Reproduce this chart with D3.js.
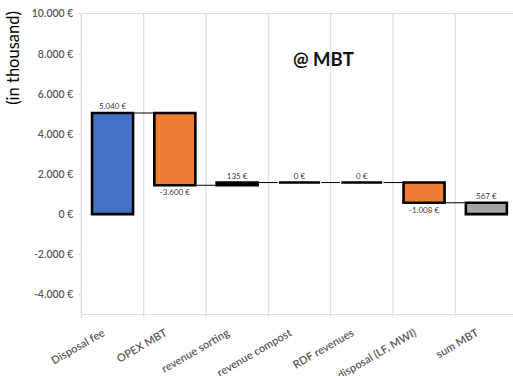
<!DOCTYPE html>
<html>
<head>
<meta charset="utf-8">
<script src="https://cdn.jsdelivr.net/npm/d3@7"></script>
<style>
  html, body { margin: 0; padding: 0; background: #fff; }
  svg { display: block; font-family: Lato, "Open Sans", sans-serif; }
</style>
</head>
<body>
<svg id="chart" width="513" height="376"></svg>
<script>
// Waterfall of MBT costs and revenues (in thousand €)
const categories = ["Disposal fee", "OPEX MBT", "revenue sorting", "revenue compost",
                    "RDF revenues", "disposal (LF, MWI)", "sum MBT"];
const values = [5040, -3600, 135, 0, 0, -1008, 567];
const kinds = ["total", "delta", "delta", "delta", "delta", "delta", "total"];
const yTicks = [-4000, -2000, 0, 2000, 4000, 6000, 8000, 10000];
const yDomain = [-5000, 10000];

const colors = { first: "#4472C4", negative: "#ED7D31", small: "#000000", total: "#A5A5A5" };

const svg = d3.select("#chart");
const plotLeft = 81.4, plotTop = 13.5, plotBottom = 314.5, band = 62.3;

const x = d3.scaleBand().domain(categories)
  .range([plotLeft, plotLeft + band * categories.length]).paddingInner(0).paddingOuter(0);
const y = d3.scaleLinear().domain(yDomain).range([plotBottom, plotTop]);

// running levels for the waterfall
let level = 0;
const bars = categories.map((c, i) => {
  let start, end;
  if (kinds[i] === "total") { start = 0; end = values[i]; }
  else { start = level; end = level + values[i]; }
  level = end;
  let fill;
  if (i === 0) fill = colors.first;
  else if (kinds[i] === "total") fill = colors.total;
  else if (values[i] < -500) fill = colors.negative;
  else fill = colors.small;
  return { cat: c, value: values[i], start, end, fill, kind: kinds[i] };
});

const grid = "#dedede";
const fmt = v => d3.format(",")(v).replace(/,/g, ".").replace("−", "-") + " €";

// plot frame and vertical gridlines at category boundaries
const bounds = categories.map(c => x(c)).concat([x.range()[1]]);
svg.append("g").selectAll("line").data(bounds).join("line")
  .attr("x1", d => d).attr("x2", d => d)
  .attr("y1", plotTop).attr("y2", plotBottom + 3)
  .attr("stroke", grid).attr("stroke-width", 1.2);
svg.append("line").attr("x1", plotLeft).attr("x2", 513).attr("y1", plotTop).attr("y2", plotTop)
  .attr("stroke", grid).attr("stroke-width", 1.2);
svg.append("line").attr("x1", plotLeft).attr("x2", 513).attr("y1", plotBottom).attr("y2", plotBottom)
  .attr("stroke", grid).attr("stroke-width", 1.2);

// y axis
const yAxis = d3.axisLeft(y).tickValues(yTicks).tickSize(4).tickPadding(4).tickFormat(fmt);
const ya = svg.append("g").attr("transform", `translate(${plotLeft},0)`).call(yAxis);
ya.select(".domain").attr("stroke", grid).attr("stroke-width", 1.2)
  .attr("d", `M0,${plotTop}V${plotBottom + 3}`);
ya.selectAll(".tick line").attr("stroke", grid);
ya.selectAll(".tick text").attr("fill", "#595959").style("font-size", "10.5px")
  .style("font-family", "Lato, sans-serif").style("font-weight", "600");

// axis title
svg.append("text").attr("transform", "translate(19,58) rotate(-90)")
  .attr("text-anchor", "middle").style("font-size", "16.5px").attr("fill", "#000")
  .text("(in thousand)");

// chart title
svg.append("text").attr("x", 293).attr("y", 66).style("font-size", "18.5px")
  .style("font-weight", "bold").attr("fill", "#111").text("@ MBT");

// bars (paths, so zero-height steps still show their outline)
const barW = 41;
const cx = d => x(d.cat) + x.bandwidth() / 2;
svg.append("g").selectAll("path").data(bars).join("path")
  .attr("d", d => {
    const x0 = cx(d) - barW / 2;
    const y0 = y(Math.max(d.start, d.end));
    const h = Math.abs(y(d.start) - y(d.end));
    return `M${x0},${y0}h${barW}v${h}h${-barW}Z`;
  })
  .attr("fill", d => d.fill)
  .attr("stroke", "#000").attr("stroke-width", 2.6)
  .attr("stroke-linejoin", "miter").attr("stroke-linecap", "square");

// connectors between consecutive bars
const links = bars.slice(0, -1).map((d, i) => ({ a: d, b: bars[i + 1], v: d.end }));
svg.append("g").selectAll("line").data(links).join("line")
  .attr("x1", d => cx(d.a) + barW / 2 + 1.3)
  .attr("x2", d => cx(d.b) - barW / 2 - 1.3)
  .attr("y1", d => y(d.v)).attr("y2", d => y(d.v))
  .attr("stroke", "#000").attr("stroke-width", 1);

// value labels
svg.append("g").selectAll("text").data(bars).join("text")
  .attr("x", d => cx(d))
  .attr("y", d => d.value < 0 ? y(Math.min(d.start, d.end)) + 10 : y(Math.max(d.start, d.end)) - 4)
  .attr("text-anchor", "middle").style("font-size", "8px").attr("fill", "#404040")
  .text(d => fmt(d.value));

// category labels
svg.append("g").selectAll("text").data(categories).join("text")
  .attr("transform", c => `translate(${x(c) + x.bandwidth() / 2 - 7},335) rotate(-30)`)
  .attr("text-anchor", "end").style("font-size", "11px").style("font-weight", "600")
  .attr("fill", "#595959").text(c => c);
</script>
</body>
</html>
